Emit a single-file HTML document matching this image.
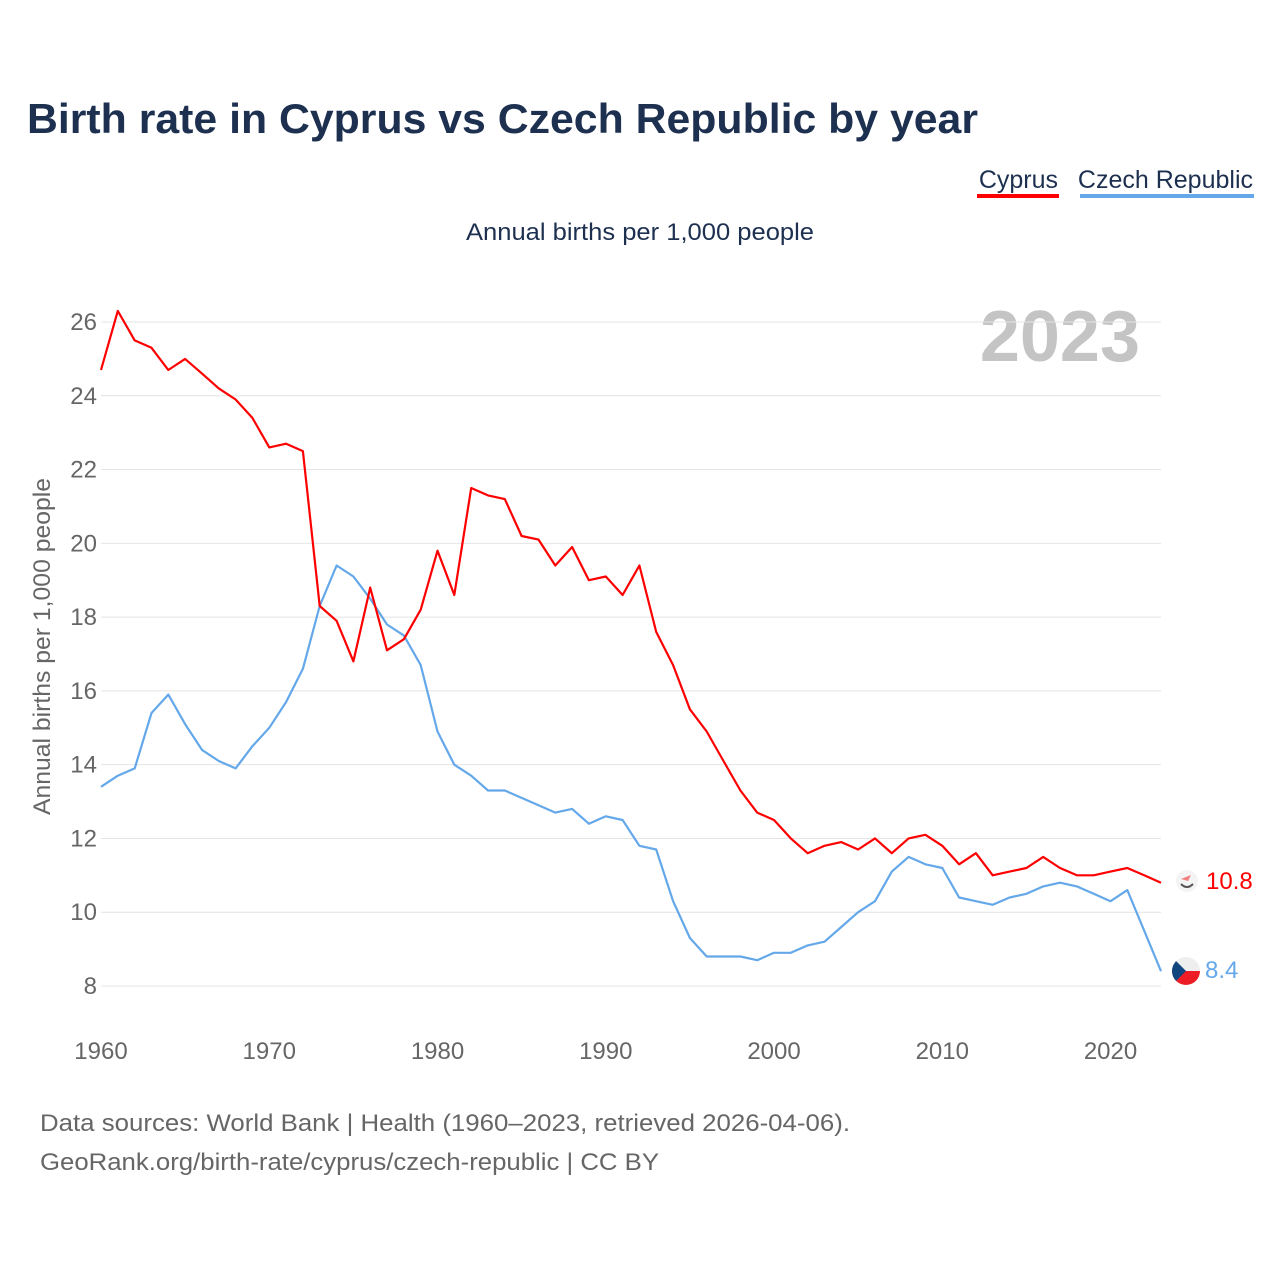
<!DOCTYPE html>
<html><head><meta charset="utf-8"><style>
body{margin:0;background:#fff;}
svg{display:block;font-family:"Liberation Sans",sans-serif;}
</style></head><body>
<svg id="chart" width="1280" height="1280" viewBox="0 0 1280 1280">
<text x="27" y="133" font-size="42" font-weight="bold" fill="#1d3050" textLength="951" lengthAdjust="spacingAndGlyphs">Birth rate in Cyprus vs Czech Republic by year</text>
<g>
<text x="1058" y="188" font-size="25" fill="#1d3050" text-anchor="end">Cyprus</text>
<rect x="977" y="194" width="82" height="4" fill="#ff0000"/>
<text x="1253" y="188" font-size="25" fill="#1d3050" text-anchor="end">Czech Republic</text>
<rect x="1080" y="194" width="174" height="4" fill="#64a8ea"/>
</g>
<text x="466" y="240" font-size="24" fill="#1d3050" textLength="348" lengthAdjust="spacingAndGlyphs">Annual births per 1,000 people</text>
<text transform="translate(50,815) rotate(-90)" font-size="24" fill="#666" textLength="337" lengthAdjust="spacingAndGlyphs">Annual births per 1,000 people</text>
<text x="1140" y="361" font-size="72" font-weight="bold" fill="#c4c4c4" text-anchor="end">2023</text>
<g id="grid"></g><g id="ylabels"></g><g id="xlabels"></g><g id="lines"></g>
<g>
<circle cx="1187" cy="881" r="11" fill="#f4f4f4"/>
<path d="M1181 879 l10 -4 l-3 6 z" fill="#f08080"/>
<path d="M1181 884 q6 6 12 0" stroke="#555" stroke-width="2" fill="none"/>
<text x="1206" y="889" font-size="24" fill="#ff0000">10.8</text>
<clipPath id="cz"><circle cx="1186" cy="971" r="14"/></clipPath>
<g clip-path="url(#cz)">
<rect x="1172" y="957" width="28" height="14" fill="#eee"/><rect x="1172" y="971" width="28" height="14" fill="#ee1c25"/>
<path d="M1172 957 L1186 971 L1172 985 z" fill="#11457e"/></g>
<text x="1205" y="978" font-size="24" fill="#64a8ea">8.4</text>
</g>
<text x="40" y="1131" font-size="24" fill="#666" textLength="810" lengthAdjust="spacingAndGlyphs">Data sources: World Bank | Health (1960–2023, retrieved 2026-04-06).</text>
<text x="40" y="1170" font-size="24" fill="#666" textLength="619" lengthAdjust="spacingAndGlyphs">GeoRank.org/birth-rate/cyprus/czech-republic | CC BY</text>
</svg>
<script>
const years=[];for(let y=1960;y<=2023;y++)years.push(y);
const cyprus=[24.7,26.3,25.5,25.3,24.7,25.0,24.6,24.2,23.9,23.4,22.6,22.7,22.5,18.3,17.9,16.8,18.8,17.1,17.4,18.2,19.8,18.6,21.5,21.3,21.2,20.2,20.1,19.4,19.9,19.0,19.1,18.6,19.4,17.6,16.7,15.5,14.9,14.1,13.3,12.7,12.5,12.0,11.6,11.8,11.9,11.7,12.0,11.6,12.0,12.1,11.8,11.3,11.6,11.0,11.1,11.2,11.5,11.2,11.0,11.0,11.1,11.2,11.0,10.8];
const czech=[13.4,13.7,13.9,15.4,15.9,15.1,14.4,14.1,13.9,14.5,15.0,15.7,16.6,18.3,19.4,19.1,18.5,17.8,17.5,16.7,14.9,14.0,13.7,13.3,13.3,13.1,12.9,12.7,12.8,12.4,12.6,12.5,11.8,11.7,10.3,9.3,8.8,8.8,8.8,8.7,8.9,8.9,9.1,9.2,9.6,10.0,10.3,11.1,11.5,11.3,11.2,10.4,10.3,10.2,10.4,10.5,10.7,10.8,10.7,10.5,10.3,10.6,9.5,8.4];
const yTicks=[8,10,12,14,16,18,20,22,24,26];
const xTicks=[1960,1970,1980,1990,2000,2010,2020];
const X=v=>101+(v-1960)*(1161-101)/63;
const Y=v=>986-(v-8)*(986-322)/18;
const NS='http://www.w3.org/2000/svg';
function mk(t,a,p){const e=document.createElementNS(NS,t);for(const k in a)e.setAttribute(k,a[k]);p.appendChild(e);return e;}
const grid=document.getElementById('grid'),yl=document.getElementById('ylabels'),xl=document.getElementById('xlabels'),ln=document.getElementById('lines');
yTicks.forEach(t=>{
 const g=mk('line',{x1:101,x2:1161,y1:Y(t),y2:Y(t),stroke:'#e4e4e4','stroke-width':1},grid);
 
 
 const l=mk('text',{x:97,y:Y(t)+8,'font-size':24,fill:'#666','text-anchor':'end'},yl);l.textContent=t;
 
 
});
xTicks.forEach(t=>{
 const l=mk('text',{x:X(t),y:1059,'font-size':24,fill:'#666','text-anchor':'middle'},xl);l.textContent=t;
 
 
});
function line(data,color,name){
 const d=data.map((v,i)=>(i?'L':'M')+X(years[i]).toFixed(1)+' '+Y(v).toFixed(1)).join(' ');
 const p=mk('path',{d:d,fill:'none',stroke:color,'stroke-width':2.2,'stroke-linejoin':'round'},ln);
 
 
}
line(czech,'#64a8ea','czech-republic-line');
line(cyprus,'#ff0000','cyprus-line');
</script>
</body></html>
